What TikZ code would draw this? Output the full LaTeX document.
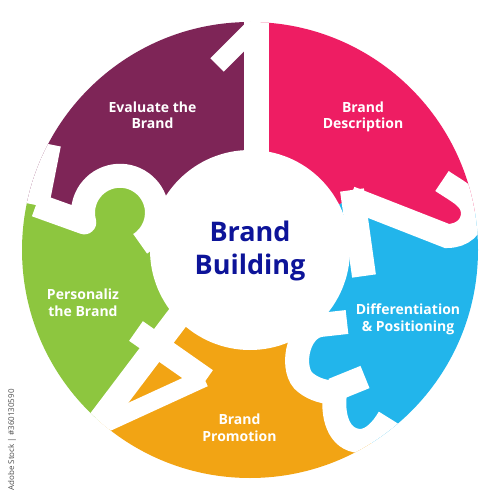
\documentclass[tikz,border=0pt]{standalone}
\usepackage{fontspec}
\setmainfont{Open Sans}
\definecolor{cpurple}{HTML}{7E2557}
\definecolor{cpink}{HTML}{EE1D63}
\definecolor{cblue}{HTML}{22B5EB}
\definecolor{corange}{HTML}{F2A414}
\definecolor{cgreen}{HTML}{8DC63F}
\definecolor{cnavy}{HTML}{0D1499}
\begin{document}
\begin{tikzpicture}[x=1pt,y=-1pt,
  dig/.style={white, line width=24pt, line cap=butt, line join=miter},
  lbl/.style={text=white, font=\bfseries\fontsize{14}{16.7}\selectfont, align=center, inner sep=0pt}]
\useasboundingbox (0,0) rectangle (500,500);
\begin{scope}
\clip (250,250) circle[radius=228];
% sectors
\fill[cpurple] (250,250) -- (157,212) -- (146,186) -- (120,175) -- (94,186) -- (84,222) -- (38,205) -- (-40,190) -- (-40,-40) -- (256,-40) -- (256,150) -- cycle;
\fill[cpink] (250,250) -- (256,150) -- (256,-40) -- (560,-40) -- (560,200) -- (473,213) -- (466,229) -- (447,236) -- (352,198) -- cycle;
\fill[cblue] (250,250) -- (352,198) -- (447,236) -- (466,229) -- (473,213) -- (560,200) -- (560,560) -- (425,530) -- (369,439) -- (360,441) -- (342,435) -- (334,415) -- (335,393) -- (310,386) -- (297,370) -- (296,345) -- (315,326) -- cycle;
\fill[corange] (250,250) -- (315,326) -- (296,345) -- (297,370) -- (310,386) -- (335,393) -- (334,415) -- (342,435) -- (360,441) -- (369,439) -- (425,530) -- (200,560) -- (30,513) -- (110,407) -- (185,308) -- cycle;
\fill[cgreen] (250,250) -- (185,308) -- (110,407) -- (30,513) -- (-40,513) -- (-40,190) -- (38,205) -- (84,222) -- (94,186) -- (120,175) -- (146,186) -- (157,212) -- cycle;
% digit 1
\draw[dig, line width=25pt] (256,160) -- (256,0);
\draw[dig, line width=19pt] (217,65) -- (254,28);
% digit 2
\draw[dig] (442,181) .. controls (458,192) and (473,198) .. (473,213) .. controls (473,226) and (463,236) .. (447,236) -- (350,198);
\draw[dig] (352,190) -- (364,276);
% digit 3
\draw[dig] (347,322) -- (320,325) .. controls (296,329) and (290,372) .. (306,383) .. controls (315,390) and (325,392) .. (335,393) .. controls (332,415) and (338,440) .. (360,441) .. controls (372,441) and (382,430) .. (389,418);
\draw[dig] (333,390) -- (365,377);
% digit 4
\draw[dig] (185,308) -- (95,427);
\draw[dig] (136,331) -- (206,380);
\draw[dig, line width=18pt] (204,378) -- (95,428);
% digit 5
\draw[dig, line width=26pt] (48,144) -- (36,205);
\draw[dig, line join=round] (36,205) -- (84.26,222.35) arc[start angle=165, end angle=417, radius=37];
\end{scope}
% centre
\fill[white] (250,250) circle[radius=100];
\node[text=cnavy, font=\bfseries\fontsize{27}{33}\selectfont, align=center, inner sep=0pt] (centre) at (250,251) {Brand\\Building};
\node[lbl] (evaluate) at (152.5,115.3) {Evaluate the\\Brand};
\node[lbl] (description) at (363,117) {Brand\\Description};
\node[lbl] (differentiation) at (408,319) {Differentiation\\\& Positioning};
\node[lbl] (promotion) at (239.5,427.5) {Brand\\Promotion};
\node[lbl] (personaliz) at (83,302.5) {Personaliz\\the Brand};
\node[text=black!70, font=\fontsize{8}{9}\selectfont, rotate=90, inner sep=0pt] (stock) at (12,440) {Adobe Stock | \#360130590};
\end{tikzpicture}
\end{document}
